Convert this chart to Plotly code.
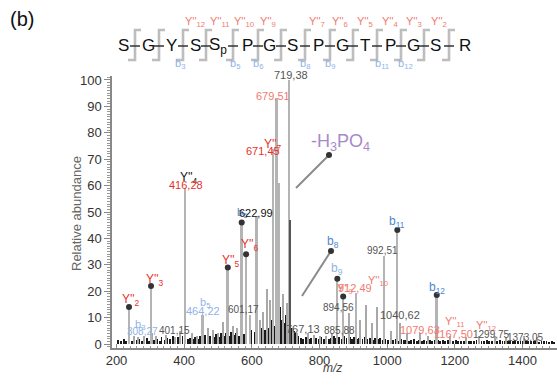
import plotly.graph_objects as go

# ---------------- data ----------------
# main (light gray) fragment peaks: m/z, relative abundance
major_mz = [237, 302, 404, 455, 529, 570, 583, 595, 615, 663, 673.5, 680, 711,
            852.7, 870, 908, 990.7, 1030, 1146.5]
major_h = [14, 22, 59, 11, 29, 46, 34, 11, 48.5, 74, 93, 61, 100,
           24.7, 18, 19.5, 33.3, 43.2, 18.6]

# smaller gray peaks
minor_mz = [252, 263, 283, 305, 318, 346, 372, 388, 422, 438, 470, 485, 500, 515,
            544, 556, 624, 633, 644, 653.7, 691, 703, 722, 735, 766, 784, 801,
            820, 836, 888, 921, 937.6, 955, 971.5, 1012, 1038, 1058, 1097, 1121,
            1186, 1232, 1271, 1319, 1352, 1405, 1442]
minor_h = [3, 2.5, 3, 4, 3, 3.5, 2.5, 5, 4, 3, 6, 5.5, 4, 8.5,
           7, 6, 9, 12, 20.7, 16.7, 19, 15.5, 6, 4, 4, 3.5, 3,
           3, 4, 11.6, 9, 14.8, 8, 14, 5, 8, 4, 4, 3,
           3, 2.5, 3, 3, 2.5, 3, 2.5]

# dark overlay peaks / baseline clutter
dark_mz = [205, 213, 222, 229, 238, 246, 251, 260, 268, 275, 281, 290, 297, 305,
           311, 320, 328, 333, 343, 350, 357, 366, 372, 381, 386, 395, 401, 411,
           417, 426, 432, 441, 447, 457, 462, 472, 477, 487, 493, 502, 508, 517,
           523, 532, 538, 548, 553, 563, 568, 578, 584, 593, 599, 608, 614, 623,
           629, 638, 645, 652, 659, 666, 672, 677, 683, 689, 696, 702, 708, 713,
           718, 724, 730, 737, 745, 751, 760, 768, 774, 783, 789, 798, 804, 813,
           819, 828, 834, 843, 849, 858, 865, 873, 880, 889, 895, 903, 911, 918,
           927, 933, 942, 948, 957, 965, 972, 979, 988, 995, 1003, 1010, 1018,
           1026, 1033, 1041, 1049, 1056, 1064, 1071, 1080, 1087, 1095, 1102, 1110,
           1118, 1126, 1133, 1141, 1149, 1156, 1164, 1171, 1180, 1187, 1195, 1203,
           1210, 1218, 1226, 1233, 1241, 1249, 1256, 1264, 1272, 1279, 1287, 1295,
           1302, 1310, 1318, 1325, 1333, 1341, 1348, 1356, 1364, 1371, 1379, 1387,
           1394, 1402, 1410, 1417, 1425, 1433, 1440, 1448, 1456, 1463, 1471, 1479,
           1486, 1494]
dark_h = [1.5, 1, 2, 1.2, 1.8, 1, 2.5, 1.4, 2, 1, 1.6, 2.2, 1.2, 2.8,
          1.5, 2, 1.3, 2.6, 1.5, 2.2, 1.8, 3, 1.4, 2.5, 1.6, 3.2, 4, 2,
          2.4, 1.8, 2.8, 2, 3, 2.2, 3.5, 2.4, 3.2, 2.6, 3.8, 2.5, 4, 3,
          4.2, 3.1, 4.5, 3.4, 4, 3.2, 4.6, 3.8, 4.8, 4, 5.2, 4.5, 5.5, 4.8,
          6, 5.5, 7, 6, 9, 7, 10, 8, 14, 9, 8, 11, 7, 47,
          6, 5, 4, 3, 2.4, 2, 2.6, 1.8, 2.2, 1.6, 2.4, 1.8, 2.6, 2,
          2.8, 2, 2.4, 3, 2.2, 2.6, 2, 3, 2.2, 2.8, 2, 2.5, 1.8, 2.4,
          2, 2.6, 1.8, 2.2, 1.6, 2.4, 1.8, 2.2, 1.6, 2, 1.5, 1.8, 1.4,
          1.8, 1.3, 2, 1.5, 1.7, 1.3, 1.6, 1.8, 1.3, 1.6, 1.2, 1.5,
          1.2, 1.6, 1.2, 1.4, 1.7, 1.2, 1.5, 1.1, 1.4, 1.8, 1.2, 1.4,
          1.1, 1.3, 1, 1.4, 1.1, 1.3, 1, 1.5, 1.1, 1.3, 1, 1.6,
          1.1, 1.3, 1, 1.2, 1.4, 1, 1.2, 1, 1.3, 1.1, 1.5, 1,
          1.2, 1, 1.3, 1, 1.1, 1, 1.2, 0.9, 1.1, 1, 1.2, 0.9,
          1, 0.9]

# peaks marked with a dot (indices into major arrays)
dot_idx = [0, 1, 4, 5, 6, 13, 14, 17, 18]

x_ticks = [200, 400, 600, 800, 1000, 1200, 1400]
y_ticks = [0, 10, 20, 30, 40, 50, 60, 70, 80, 90, 100]

sequence = ["S", "G", "Y", "S", "S<sub>p</sub>", "P", "G", "S", "P", "G", "T", "P", "G", "S", "R"]

# ---------------- layout helpers (pixel -> paper) ----------------
W, H = 557, 386
L, R, T, B = 112, 0, 76, 38
PW, PH = W - L - R, H - T - B


def px(x):
    return (x - L) / PW


def py(y):
    return (H - B - y) / PH


fig = go.Figure()

fig.add_trace(go.Bar(x=dark_mz, y=dark_h, width=2.6, marker=dict(color="#1a1a1a", line=dict(width=0)),
                     hoverinfo="skip", showlegend=False))
fig.add_trace(go.Bar(x=minor_mz, y=minor_h, width=3.5, marker=dict(color="#a8a8a8", line=dict(width=0)),
                     hoverinfo="skip", showlegend=False))
fig.add_trace(go.Bar(x=major_mz, y=major_h, width=5.5, marker=dict(color="#b4b4b4", line=dict(width=0)),
                     hoverinfo="skip", showlegend=False))
# dark overlay drawn above the light bar of 719
fig.add_trace(go.Bar(x=[dark_mz[69]], y=[dark_h[69]], width=3.5, marker=dict(color="#555555", line=dict(width=0)),
                     hoverinfo="skip", showlegend=False))
fig.add_trace(go.Scatter(x=[major_mz[i] for i in dot_idx], y=[major_h[i] for i in dot_idx], mode="markers",
                         marker=dict(color="#333333", size=6), hoverinfo="skip", showlegend=False))

fig.update_layout(barmode="overlay", bargap=0)

RED = "#e8302a"
LRED = "#f07a70"
BLUE = "#4f86cf"
LBLUE = "#8fb4e6"
GRAY = "#555555"
FONT = "Liberation Sans, Arial, sans-serif"

ann = []


def A(text, x, y, color, size=11, xanchor="center", **kw):
    ann.append(dict(text=text, x=px(x), y=py(y), xref="paper", yref="paper", showarrow=False,
                    font=dict(color=color, size=size, family=FONT), xanchor=xanchor, yanchor="middle", **kw))


# panel label
A("(b)", 22, 19, "#111111", size=20)

# sequence letters
letter_x = [123, 148, 171, 195, 218, 247, 269, 292, 318, 342, 365, 390, 413, 435, 465]
for s, lx in zip(sequence, letter_x):
    A(s, lx, 46, "#111111", size=17)

# brackets between residues
shapes = []
gaps = [135, 159, 183, 206, 233, 258, 281, 305, 330, 353, 377, 401, 424, 449]
for g in gaps:
    shapes.append(dict(type="path", xref="paper", yref="paper",
                       path=f"M {px(g+6)} {py(30)} L {px(g)} {py(30)} L {px(g)} {py(60)} L {px(g-7)} {py(60)}",
                       line=dict(color="#bdbdbd", width=2.6)))
    shapes.append(dict(type="line", xref="paper", yref="paper", x0=px(g - 5), x1=px(g + 5), y0=py(46), y1=py(46),
                       line=dict(color="#333333", width=1.5)))

# Y'' ion labels above the sequence
for n, lx in [("12", 195), ("11", 220), ("10", 244), ("9", 268), ("7", 317), ("6", 340),
              ("5", 365), ("4", 390), ("3", 414), ("2", 439)]:
    A(f"Y''<sub>{n}</sub>", lx, 22, LRED, size=11)
# b ion labels below
for n, lx in [("3", 180), ("5", 235), ("6", 258), ("8", 305), ("9", 330), ("11", 382), ("12", 405)]:
    A(f"b<sub>{n}</sub>", lx, 64, LBLUE, size=11)

# peak annotations
A("Y''<sub>2</sub>", 131, 300, RED, size=12)
A("Y''<sub>3</sub>", 155, 280, RED, size=12)
A("b<sub>3</sub>", 140, 325, LBLUE, size=11)
A("308,27", 142, 331, LBLUE, size=10)
A("401,15", 174, 330, GRAY, size=10)
A("Y''<sub>4</sub>", 189, 178, "#111111", size=12)
A("416,28", 186, 185, RED, size=11)
A("b<sub>5</sub>", 205, 303, LBLUE, size=11)
A("464,22", 203, 311, LBLUE, size=11)
A("Y''<sub>5</sub>", 231, 261, RED, size=12)
A("b<sub>6</sub>", 242, 213, BLUE, size=11)
A("622,99", 256, 213, "#111111", size=11)
A("Y''<sub>6</sub>", 250, 245, RED, size=12)
A("601,17", 243, 309, GRAY, size=10)
A("671,45", 263, 151, RED, size=11)
A("Y''<sub>7</sub>", 273, 145, RED, size=12)
A("679,51", 273, 96, LRED, size=11)
A("719,38", 291, 75, GRAY, size=11)
A("-H<sub>3</sub>PO<sub>4</sub>", 340, 142, "#a58bc9", size=18)
A("767,13", 303, 329, GRAY, size=11)
A("885,88", 339, 330, GRAY, size=10)
A("b<sub>8</sub>", 333, 242, BLUE, size=12)
A("b<sub>9</sub>", 337, 269, LBLUE, size=12)
A("Y''<sub>9</sub>", 345, 289, LRED, size=11)
A("912,49", 355, 288, LRED, size=11)
A("Y''<sub>10</sub>", 378, 281, LRED, size=11)
A("894,56", 338, 307, GRAY, size=10)
A("992,51", 382, 250, GRAY, size=10)
A("b<sub>11</sub>", 397, 222, BLUE, size=12)
A("1040,62", 400, 315, GRAY, size=11)
A("b<sub>12</sub>", 437, 288, BLUE, size=12)
A("1079,63", 420, 330, LRED, size=11)
A("Y''<sub>11</sub>", 455, 322, LRED, size=11)
A("1167,50", 453, 334, LRED, size=11)
A("Y''<sub>12</sub>", 486, 326, LRED, size=11)
A("1299,75", 491, 334, GRAY, size=10)
A("1373,05", 525, 337, GRAY, size=10)

# axis titles
A("Relative abundance", 76, 214, "#666666", size=13, textangle=-90)
A("<i>m/z</i>", 332, 368, "#444444", size=12)

# leader lines
shapes.append(dict(type="line", xref="paper", yref="paper", x0=px(296), y0=py(188), x1=px(329), y1=py(155),
                   line=dict(color="#8a8a8a", width=2)))
shapes.append(dict(type="line", xref="paper", yref="paper", x0=px(302), y0=py(296), x1=px(331), y1=py(251),
                   line=dict(color="#8a8a8a", width=2)))
for cx, cy in [(329, 155), (331, 251)]:
    shapes.append(dict(type="circle", xref="paper", yref="paper", x0=px(cx - 3), x1=px(cx + 3),
                       y0=py(cy + 3), y1=py(cy - 3), fillcolor="#333333", line=dict(width=0)))

fig.update_layout(
    width=W, height=H,
    margin=dict(l=L, r=R, t=T, b=B, pad=0),
    paper_bgcolor="white", plot_bgcolor="white",
    font=dict(family=FONT, color="#333333"),
    annotations=ann, shapes=shapes,
    xaxis=dict(range=[186.7, 1502], tickvals=x_ticks, ticks="inside", ticklen=4, tickcolor="#888888",
               showline=True, linecolor="#888888", linewidth=1.5, showgrid=False, zeroline=False,
               tickfont=dict(size=13, color="#333333"),
               minor=dict(dtick=20, tick0=200, ticks="inside", ticklen=2, tickcolor="#999999")),
    yaxis=dict(range=[-1.5, 101.5], tickvals=y_ticks, ticks="outside", ticklen=6, tickcolor="#888888",
               showline=True, linecolor="#888888", linewidth=1.5, showgrid=False, zeroline=False,
               tickfont=dict(size=13, color="#333333"),
               minor=dict(dtick=1, tick0=0, ticks="outside", ticklen=3, tickcolor="#999999")),
)

fig.write_html("out.html", config={"displayModeBar": False},
               post_script="document.body.style.margin='0';document.body.style.overflow='hidden';")
